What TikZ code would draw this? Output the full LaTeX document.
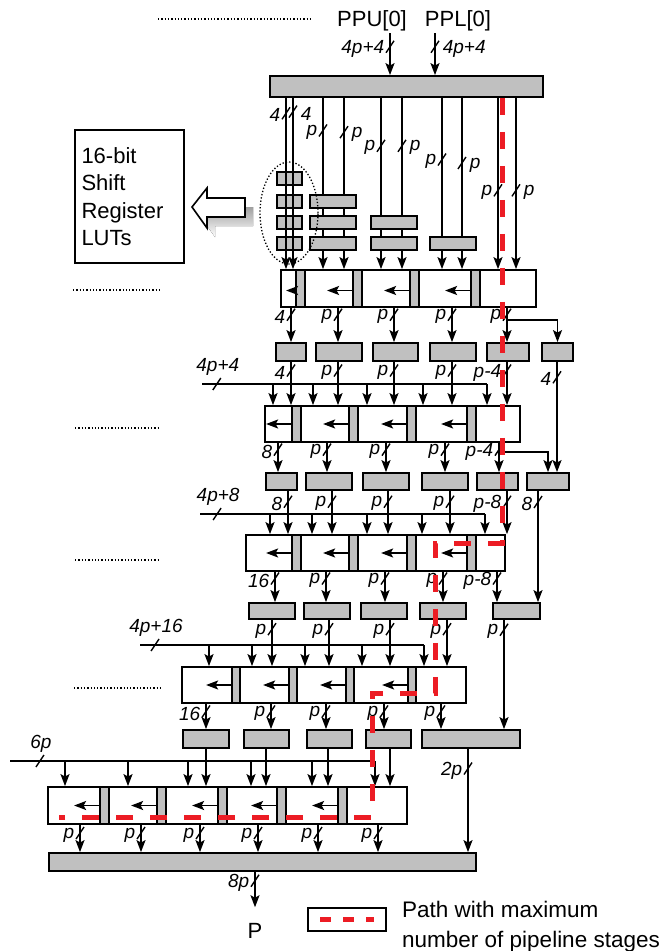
\documentclass[tikz,border=0pt]{standalone}
\usepackage{fontspec}
\setmainfont{Liberation Sans}
\usetikzlibrary{arrows.meta,fit}
\definecolor{lutgray}{HTML}{C0C0C0}
\definecolor{shade}{HTML}{9A9A9A}
\definecolor{hot}{HTML}{EC1C24}

\begin{document}
\begin{tikzpicture}[x=1pt,y=-1pt,
  gbox/.style={draw,line width=1.8pt,fill=lutgray,inner sep=0pt},
  cell/.style={draw,line width=1.8pt,fill=white,inner sep=0pt},
  arr/.style={-{Stealth[length=12pt,width=9pt,inset=2.5pt]},line width=1.6pt},
  wire/.style={line width=1.6pt},
  tk/.style={-,solid,line width=1.4pt},
  lbl/.style={font=\fontsize{19}{21}\selectfont\itshape,inner sep=0pt},
  big/.style={font=\fontsize{22}{27.5}\selectfont},
  crit/.style={draw=hot,line width=5pt,dash pattern=on 17pt off 17pt},
  dots/.style={line width=1.3pt,dotted},
  tl/.pic={\draw[tk] (-4pt,-6pt) -- (4pt,6pt);
           \node[lbl,anchor=east] at (-5pt,-2pt) {#1};},
  tr/.pic={\draw[tk] (-4pt,-6pt) -- (4pt,6pt);
           \node[lbl,anchor=west] at (7pt,-2pt) {#1};},
  ta/.pic={\draw[tk] (-4pt,-6pt) -- (4pt,6pt);
           \node[lbl,anchor=south] at (1pt,8pt) {#1};}]
\useasboundingbox (0,0) rectangle (665,951);

% inputs
\node[big,inner sep=2pt] (ppu) at (372,21) {PPU[0]};
\node[big,inner sep=2pt] (ppl) at (458,21) {PPL[0]};
\draw[dots] (158,19) -- (312,19);
\node[gbox,fit={(270,76)(543,97)}] (top) {};
\draw[arr] (390,0 |- ppu.south) -- pic[pos=.32]{tl=4p+4} (390,0 |- top.north);
\draw[arr] (435,0 |- ppl.south) -- pic[pos=.32]{tr=4p+4} (435,0 |- top.north);

% first row of adders
\node[cell,fit={(281,270)(536,307)}] (r1) {};
\foreach \x/\t/\p in {286/4/.09,323/p/.19,381/p/.28,442/p/.36,498/p/.54}
  \draw[arr] (\x,0 |- top.south) -- pic[pos=\p]{tl=\t} (\x,0 |- r1.north);
\foreach \x/\t/\p in {293/4/.08,344/p/.2,402/p/.28,462/p/.38,516/p/.54}
  \draw[arr] (\x,0 |- top.south) -- pic[pos=\p]{tr=\t} (\x,0 |- r1.north);

% shift register LUTs
\foreach \y [count=\i] in {172,195,216,237}
  \node[gbox,fit={(277,\y)(302,\y+13)}] (la\i) {};
\foreach \y [count=\i] in {195,216,237}
  \node[gbox,fit={(310,\y)(356,\y+13)}] (lb\i) {};
\foreach \y [count=\i] in {216,237}
  \node[gbox,fit={(371,\y)(417,\y+13)}] (lc\i) {};
\node[gbox,fit={(430,237)(476,250)}] (ld1) {};
\foreach \x in {286,293} \draw[wire] (\x,0 |- la1.north) -- (\x,0 |- la4.south);
\draw[dots] (289,213) ellipse [x radius=29pt,y radius=51pt];

\node[draw,line width=1.6pt,big,align=left,text width=96pt,minimum width=109pt,
  minimum height=133pt,inner sep=0pt] (srl) at (129.5,196.5) {16-bit\\Shift\\Register\\LUTs};
\fill[shade] (200,216) -- (215,197) -- (215,207) -- (253,207) -- (253,226) -- (215,226) -- (215,237) -- cycle;
\draw[line width=1.6pt,fill=white] (192,207) -- (207,188) -- (207,198) -- (245,198) -- (245,217)
  -- (207,217) -- (207,228) -- cycle;

% left markers
\draw[dots] (73,290) -- (160,290);
\draw[dots] (75,428) -- (160,428);
\draw[dots] (75,560) -- (159,560);
\draw[dots] (74,688) -- (160,688);

% registers inside row 1
\foreach \a [count=\i] in {296,353,410,471}
  \node[gbox,fit={(\a,270)(\a+9,307)}] (r1b\i) {};
\draw[arr] ([yshift=-2pt]r1b1.west) -- ++(-9,0);
\foreach \i in {2,3,4} \draw[arr] ([yshift=-2pt]r1b\i.west) -- ++(-25,0);

% stage A
\foreach \n/\a/\b in {a1/276/306,a2/316/362,a3/373/418,a4/430/476,a5/487/529,a6/542/573}
  \node[gbox,fit={(\a,343)(\b,361)}] (\n) {};
\foreach \x/\t/\n in {291/4/a1,338/p/a2,394/p/a3,452/p/a4,507/p/a5}
  \draw[arr] (\x,0 |- r1.south) -- pic[pos=.2]{tl=\t} (\x,0 |- \n.north);
\coordinate (j1) at (507,320);
\draw[arr] (j1) -| (a6.north);

% row 2
\node[cell,fit={(265,406)(520,442)}] (r2) {};
\foreach \a [count=\i] in {292,349,407,467}
  \node[gbox,fit={(\a,406)(\a+9,442)}] (r2b\i) {};
\foreach \i in {1,...,4} \draw[arr] (r2b\i.west) -- ++(-25,0);
\foreach \x/\t/\n in {291/4/a1,338/p/a2,394/p/a3,452/p/a4,507/p-4/a5}
  \draw[arr] (\x,0 |- \n.south) -- pic[pos=.2]{tl=\t} (\x,0 |- r2.north);
\coordinate (in1) at (202,384);
\draw[wire] (in1) -- pic[pos=.052]{ta=4p+4} (487,0 |- in1);
\foreach \x in {273,313,367,423,487}
  \draw[arr] (\x,0 |- in1) -- (\x,0 |- r2.north);

% stage B
\foreach \n/\a/\b in {b1/266/297,b2/306/352,b3/363/409,b4/422/468,b5/477/518,b6/527/569}
  \node[gbox,fit={(\a,473)(\b,490)}] (\n) {};
\foreach \x/\t/\n in {278/8/b1,327/p/b2,386/p/b3,445/p/b4,499/p-4/b5}
  \draw[arr] (\x,0 |- r2.south) -- pic[pos=.23]{tl=\t} (\x,0 |- \n.north);
\coordinate (j2) at (499,452);
\draw[arr] (j2) -| (b6.north);
\draw[arr] (557,0 |- a6.south) -- pic[pos=.14]{tl=4} (557,0 |- b6.north);

% row 3
\node[cell,fit={(246,535)(505,571)}] (r3) {};
\foreach \a [count=\i] in {292,349,407,467}
  \node[gbox,fit={(\a,535)(\a+9,571)}] (r3b\i) {};
\foreach \i in {1,...,4} \draw[arr] (r3b\i.west) -- ++(-25,0);
\foreach \x/\t/\n in {288/8/b1,332/p/b2,388/p/b3,450/p/b4,507/p-8/b5}
  \draw[arr] (\x,0 |- \n.south) -- pic[pos=.25]{tl=\t} (\x,0 |- r3.north);
\coordinate (in2) at (200,514);
\draw[wire] (in2) -- pic[pos=.06]{ta=4p+8} (485,0 |- in2);
\foreach \x in {270,312,367,422,485}
  \draw[arr] (\x,0 |- in2) -- (\x,0 |- r3.north);

% stage C
\foreach \n/\a/\b in {c1/249/295,c2/304/350,c3/361/407,c4/420/466,c5/493/540}
  \node[gbox,fit={(\a,603)(\b,619)}] (\n) {};
\foreach \x/\t/\n in {275/16/c1,326/p/c2,385/p/c3,443/p/c4,497/p-8/c5}
  \draw[arr] (\x,0 |- r3.south) -- pic[pos=.22]{tl=\t} (\x,0 |- \n.north);
\draw[arr] (538,0 |- b6.south) -- pic[pos=.1]{tl=8} (538,0 |- c5.north);

% row 4
\node[cell,fit={(182,667)(466,703)}] (r4) {};
\foreach \a [count=\i] in {232,289,346,408}
  \node[gbox,fit={(\a,667)(\a+8,703)}] (r4b\i) {};
\foreach \i in {1,...,4} \draw[arr] (r4b\i.west) -- ++(-25,0);
\foreach \x/\n in {272/c1,329/c2,390/c3,447/c4}
  \draw[arr] (\x,0 |- \n.south) -- pic[pos=.2]{tl=p} (\x,0 |- r4.north);
\coordinate (in3) at (140,645);
\draw[wire] (in3) -- pic[pos=.053]{ta=4p+16} (424,0 |- in3);
\foreach \x in {209,252,305,362,424}
  \draw[arr] (\x,0 |- in3) -- (\x,0 |- r4.north);

% stage D
\foreach \n/\a/\b in {d1/183/229,d2/244/289,d3/307/352,d4/366/411,d5/422/520}
  \node[gbox,fit={(\a,730)(\b,748)}] (\n) {};
\foreach \x/\t/\n in {206/16/d1,271/p/d2,326/p/d3,384/p/d4,441/p/d5}
  \draw[arr] (\x,0 |- r4.south) -- pic[pos=.3]{tl=\t} (\x,0 |- \n.north);
\draw[arr] (504,0 |- c5.south) -- pic[pos=.09]{tl=p} (504,0 |- d5.north);

% row 5
\node[cell,fit={(48,787)(407,824)}] (r5) {};
\foreach \a [count=\i] in {100,157,218,277,338}
  \node[gbox,fit={(\a,787)(\a+9,824)}] (r5b\i) {};
\foreach \i in {1,...,5} \draw[arr] (r5b\i.west) -- ++(-25,0);
\foreach \x/\n in {206/d1,266/d2,328/d3,390/d4}
  \draw[arr] (\x,0 |- \n.south) -- (\x,0 |- r5.north);
\coordinate (in4) at (10,761);
\draw[wire] (in4) -- pic[pos=.082]{ta=6p} (375,0 |- in4);
\foreach \x in {65,128,188,251,312,375}
  \draw[arr] (\x,0 |- in4) -- (\x,0 |- r5.north);

% final adder
\node[gbox,fit={(49,853)(476,871)}] (fin) {};
\foreach \x in {80,141,200,258,318,378}
  \draw[arr] (\x,0 |- r5.south) -- pic[pos=.3]{tl=p} (\x,0 |- fin.north);
\draw[arr] (468,0 |- d5.south) -- pic[pos=.19]{tl=2p} (468,0 |- fin.north);
\node[big,inner sep=0pt] (pout) at (255,931) {P};
\draw[arr] (255,0 |- fin.south) -- pic[pos=.25]{tl=8p} ([yshift=16pt]pout.north);

% critical path
\draw[crit] (502,0 |- top.south) -- (502,543) -- (435,543) -- (435,693) -- (372,693)
  -- (372,817) -- (59,817);

% legend
\node[draw,line width=1.6pt,fit={(308,908)(386,931)},inner sep=0pt] (key) {};
\draw[draw=hot,line width=5pt,dash pattern=on 11pt off 12pt] (320,0 |- key.center) -- (374,0 |- key.center);
\node[font=\fontsize{22.5}{30}\selectfont,anchor=west,align=left,inner sep=0pt] (keytxt)
  at (402,927) {Path with maximum\\number of pipeline stages};
\end{tikzpicture}
\end{document}
